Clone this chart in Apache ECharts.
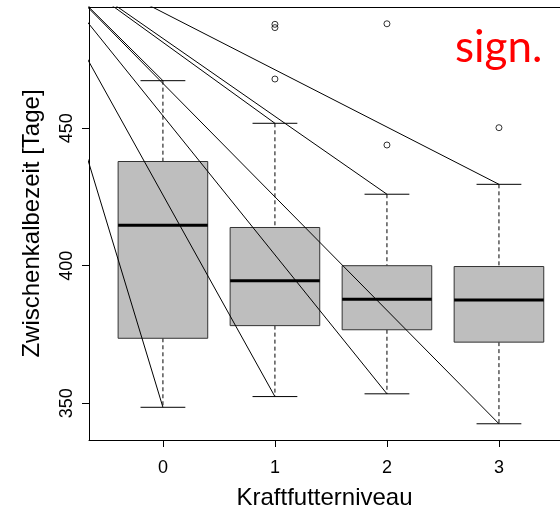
<!DOCTYPE html>
<html>
<head>
<meta charset="utf-8">
<script src="https://cdn.jsdelivr.net/npm/echarts@6/dist/echarts.min.js"></script>
<style>
html,body{margin:0;padding:0;background:#fff;}
#chart{width:560px;height:512px;}
</style>
</head>
<body>
<div id="chart"></div>
<script>
// ---- data ----
const categories   = [0, 1, 2, 3];
const whiskerLow   = [348.5, 352.4, 353.4, 342.5];
const quartile1    = [373.6, 378.2, 376.7, 372.2];
const median       = [414.7, 394.5, 387.8, 387.5];
const quartile3    = [437.9, 413.9, 400.0, 399.7];
const whiskerHigh  = [467.3, 451.8, 426.0, 429.6];
const outlierGroup = [1, 1, 1, 2, 2, 3];
const outlierValue = [487.8, 486.6, 467.9, 488.0, 443.9, 450.2];
const yTicks       = [350, 400, 450];
const lineOrigin   = [-1.265, 518.5];   // common start point of the fan of lines (outside the plot)
const xTitle = 'Kraftfutterniveau';
const yTitle = 'Zwischenkalbezeit [Tage]';
const note = 'sign.';

const boxData = categories.map((c, i) => [c, whiskerLow[i], quartile1[i], median[i], quartile3[i], whiskerHigh[i]]);
const outlierData = outlierGroup.map((g, i) => [g, outlierValue[i]]);

const lineSeries = [];
categories.forEach((c, i) => {
  [whiskerLow[i], whiskerHigh[i]].forEach(v => {
    lineSeries.push({
      type: 'line',
      data: [[lineOrigin[0], lineOrigin[1]], [c, v]],
      showSymbol: false,
      symbol: 'none',
      clip: true,
      lineStyle: { color: '#000', width: 1 },
      silent: true,
      z: 5
    });
  });
});

const chart = echarts.init(document.getElementById('chart'), null, { renderer: 'canvas' });
const FONT = 'Liberation Sans, Arial, sans-serif';
const XMIN = -0.66, XMAX = 3.545;

chart.setOption({
  animation: false,
  backgroundColor: '#fff',
  textStyle: { fontFamily: FONT },
  grid: { left: 89, right: 0, top: 7, bottom: 72, show: false, containLabel: false, outerBoundsMode: 'none' },
  xAxis: [{
    type: 'value', min: XMIN, max: XMAX, position: 'bottom',
    splitLine: { show: false },
    axisLine: { show: true, onZero: false, lineStyle: { color: '#000', width: 1 } },
    axisTick: { show: true, length: 7, customValues: categories, lineStyle: { color: '#000', width: 1 } },
    axisLabel: { customValues: categories, margin: 19, fontSize: 18, color: '#000', fontFamily: FONT },
    name: xTitle, nameLocation: 'middle', nameGap: 46,
    nameTextStyle: { fontSize: 24, color: '#000', fontFamily: FONT }
  }, {
    type: 'value', min: XMIN, max: XMAX, position: 'top',
    splitLine: { show: false },
    axisLine: { show: true, onZero: false, lineStyle: { color: '#000', width: 1 } },
    axisTick: { show: false },
    axisLabel: { show: false }
  }],
  yAxis: {
    type: 'value', min: 336.6, max: 494.1,
    splitLine: { show: false },
    axisLine: { show: true, onZero: false, lineStyle: { color: '#000', width: 1 } },
    axisTick: { show: true, length: 7, customValues: yTicks, lineStyle: { color: '#000', width: 1 } },
    axisLabel: { customValues: yTicks, rotate: 90, margin: 13, fontSize: 18, color: '#000', fontFamily: FONT },
    name: yTitle, nameLocation: 'middle', nameGap: 45, nameRotate: 90,
    nameTextStyle: { fontSize: 24, color: '#000', fontFamily: FONT }
  },
  graphic: [{
    type: 'text', x: 455, y: 48, z: 100,
    style: { text: note, fill: '#ff0000', font: '44px Lato', textAlign: 'left', verticalAlign: 'middle' }
  }],
  series: [
    {
      type: 'custom',
      data: boxData,
      encode: { x: 0, y: [1, 2, 3, 4, 5] },
      z: 2,
      renderItem: function (params, api) {
        const x = api.value(0);
        const lo = api.coord([x, api.value(1)]);
        const q1 = api.coord([x, api.value(2)]);
        const md = api.coord([x, api.value(3)]);
        const q3 = api.coord([x, api.value(4)]);
        const hi = api.coord([x, api.value(5)]);
        const bw = api.size([0.8, 0])[0];
        const cw = bw / 2;
        const cx = lo[0];
        const dash = { stroke: '#000', lineWidth: 1, lineDash: [4, 3] };
        const solid = { stroke: '#000', lineWidth: 1 };
        return {
          type: 'group',
          children: [
            { type: 'line', shape: { x1: cx, y1: hi[1], x2: cx, y2: q3[1] }, style: dash },
            { type: 'line', shape: { x1: cx, y1: q1[1], x2: cx, y2: lo[1] }, style: dash },
            { type: 'line', shape: { x1: cx - cw / 2, y1: hi[1], x2: cx + cw / 2, y2: hi[1] }, style: solid },
            { type: 'line', shape: { x1: cx - cw / 2, y1: lo[1], x2: cx + cw / 2, y2: lo[1] }, style: solid },
            { type: 'rect', shape: { x: cx - bw / 2, y: q3[1], width: bw, height: q1[1] - q3[1] },
              style: { fill: '#bebebe', stroke: '#333', lineWidth: 1 } },
            { type: 'line', shape: { x1: cx - bw / 2, y1: md[1], x2: cx + bw / 2, y2: md[1] },
              style: { stroke: '#000', lineWidth: 3 } }
          ]
        };
      }
    },
    {
      type: 'scatter',
      data: outlierData,
      symbol: 'circle',
      symbolSize: 6,
      itemStyle: { color: 'rgba(0,0,0,0)', borderColor: '#000', borderWidth: 1 },
      z: 3
    }
  ].concat(lineSeries)
});
</script>
</body>
</html>
